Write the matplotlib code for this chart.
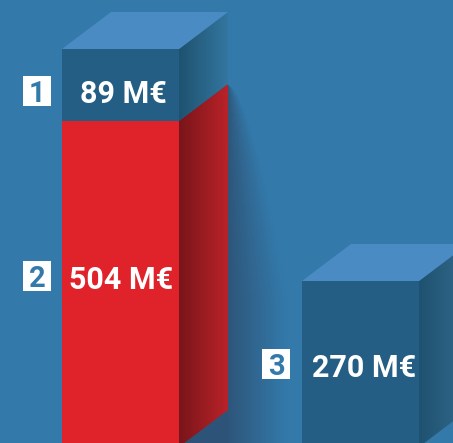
import numpy as np
import matplotlib
matplotlib.use("Agg")
import matplotlib.pyplot as plt
from matplotlib.patches import Polygon
from matplotlib.colors import LinearSegmentedColormap

# values printed on the chart, M€
item_numbers = ["1", "2", "3"]
item_values = [89, 504, 270]
value_labels = [f"{v} M€" for v in item_values]

# drawn heights (pixels above the baseline, not to scale with the values)
stack_red_height = 326
stack_blue_height = 72
single_height = 166

bar_lefts = [62, 302]
bar_width = 117
depth_x = 49
depth_y = 37
baseline_px = 447

BG = "#337aab"
TOP = "#4a8bc4"
FRONT = "#245e84"
RED = "#e0222a"

W, H = 453, 443


def y_px(py):
    # picture row -> data y
    return baseline_px - py


plt.rcParams["font.family"] = ["Roboto", "DejaVu Sans"]
fig = plt.figure(figsize=(W / 100, H / 100), dpi=100, facecolor=BG)
ax = fig.add_axes([0, 0, 1, 1])
ax.set_facecolor(BG)
xlim = (0, W)
ylim = (y_px(H), y_px(0))


def side_face(x, y0, y1, c0, c1, z):
    """right hand face of a bar, shaded left to right"""
    cm = LinearSegmentedColormap.from_list("s", [c0, c1])
    xr = x + bar_width
    pts = [(xr, y0), (xr + depth_x, y0 + depth_y), (xr + depth_x, y1 + depth_y), (xr, y1)]
    im = ax.imshow(np.linspace(0, 1, 64).reshape(1, -1), cmap=cm, aspect="auto",
                   extent=(xr, xr + depth_x, y0, y1 + depth_y), zorder=z)
    im.set_clip_path(Polygon(pts, transform=ax.transData))


def top_face(x, y, z):
    ax.add_patch(Polygon([(x, y), (x + bar_width, y), (x + bar_width + depth_x, y + depth_y),
                          (x + depth_x, y + depth_y)], fc=TOP, ec="none", zorder=z))


# soft shadow thrown by the tall bar, in steps like the original blend
xx, yy = np.meshgrid(np.arange(W) + 0.5, np.arange(H) + 0.5)
reach = 62 * np.clip((yy - 85) / 215, 0, 1) ** 0.6 + 0.01
t = np.clip((xx - 228) / reach, 0, 1)
alpha = 0.62 * (1 - t) ** 1.1
alpha = np.round(alpha * 30) / 30
alpha[(xx < 179) | (yy < 85)] = 0
shadow = np.zeros((H, W, 4))
shadow[..., 0] = 0.17
shadow[..., 1] = 0.25
shadow[..., 2] = 0.36
shadow[..., 3] = alpha
ax.imshow(shadow, extent=(0, W, ylim[0], ylim[1]), origin="upper", aspect="auto", zorder=1)

# tall stacked bar
x1 = bar_lefts[0]
ax.bar(x1, stack_red_height, width=bar_width, align="edge", color=RED, zorder=3)
ax.bar(x1, stack_blue_height, bottom=stack_red_height, width=bar_width, align="edge", color=FRONT, zorder=3)
side_face(x1, 0, stack_red_height, "#79151a", "#b92329", 2)
side_face(x1, stack_red_height, stack_red_height + stack_blue_height, "#1f5270", "#33769f", 2)
top_face(x1, stack_red_height + stack_blue_height, 3)

# single bar
x2 = bar_lefts[1]
ax.bar(x2, single_height, width=bar_width, align="edge", color=FRONT, zorder=3)
side_face(x2, 0, single_height, "#1f5270", "#34698c", 2)
top_face(x2, single_height, 3)

# value labels
text_pos = [(123.5, 91), (121.5, 277), (364.5, 365)]
for lab, (tx, ty) in zip(value_labels, text_pos):
    ax.text(tx, y_px(ty), lab, color="white", fontsize=22, fontweight="bold",
            ha="center", va="center_baseline", zorder=5)

# numbered white squares
square_pos = [(23, 76), (23, 261), (262, 349)]
for num, (sx, sy) in zip(item_numbers, square_pos):
    ax.add_patch(plt.Rectangle((sx, y_px(sy + 30)), 28, 30, fc="white", ec="none", zorder=5))
    ax.text(sx + 14, y_px(sy + 15), num, color=BG, fontsize=21, fontweight="bold",
            ha="center", va="center_baseline", zorder=6)

ax.set_xlim(xlim)
ax.set_ylim(ylim)
ax.axis("off")
fig.savefig("out.png", dpi=100, facecolor=BG)
